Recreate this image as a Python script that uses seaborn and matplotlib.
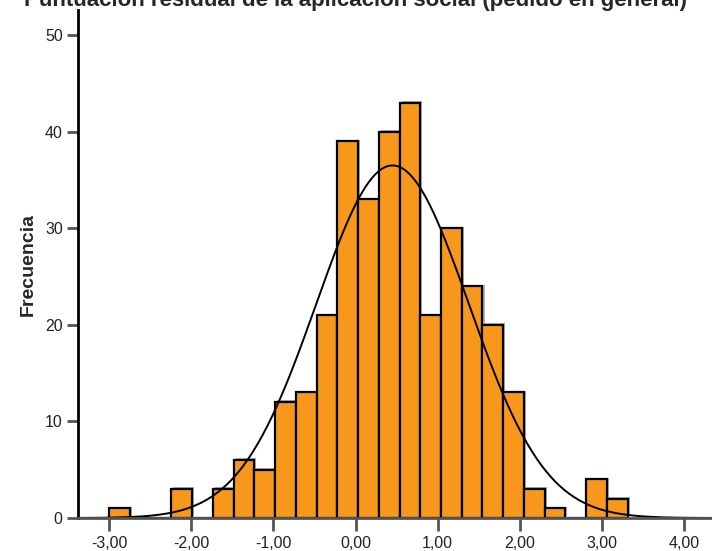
import numpy as np
import pandas as pd
import matplotlib
matplotlib.use("Agg")
import matplotlib.pyplot as plt
import matplotlib.patheffects as pe
import seaborn as sns

# histogram: 25 bins of width ~0.2525 starting at -3.00
bin_start = -3.00
bin_width = 0.2525
counts = [1, 0, 0, 3, 0, 3, 6, 5, 12, 13, 21, 39, 33,
          40, 43, 21, 30, 24, 20, 13, 3, 1, 0, 4, 2]
# fitted normal curve
curve_mean = 0.45
curve_sd = 0.93
x_ticks = [-3, -2, -1, 0, 1, 2, 3, 4]
x_labels = ["-3,00", "-2,00", "-1,00", "0,00", "1,00", "2,00", "3,00", "4,00"]
y_ticks = [0, 10, 20, 30, 40, 50]

edges = bin_start + bin_width * np.arange(len(counts) + 1)
centers = (edges[:-1] + edges[1:]) / 2
df = pd.DataFrame({"valor": centers, "n": counts})
n_total = sum(counts)

sns.set_style("white")
plt.rcParams["font.family"] = ["Liberation Sans", "DejaVu Sans"]

fig = plt.figure(figsize=(7.12, 5.51), dpi=100)
ax = fig.add_axes([78 / 712, 1 - 518 / 551, 1 - 78 / 712, (518 - 10) / 551])

sns.histplot(data=df, x="valor", weights="n", binwidth=bin_width,
             binrange=(edges[0], edges[-1]), stat="count",
             color="#F7981D", alpha=1, edgecolor="black", linewidth=1.6, ax=ax)
for p in ax.patches:
    p.set_path_effects([pe.SimplePatchShadow(offset=(1.5, 1.2), shadow_rgbFace="#9a9a9a", alpha=0.8),
                        pe.Normal()])

xs = np.linspace(-3.4, 4.4, 400)
ys = n_total * bin_width / (curve_sd * np.sqrt(2 * np.pi)) * np.exp(-0.5 * ((xs - curve_mean) / curve_sd) ** 2)
sns.lineplot(x=xs, y=ys, color="black", linewidth=1.4, ax=ax)

ax.set_xlim(-3.38, 4.34)
ax.set_ylim(0, 52.6)
ax.set_xticks(x_ticks)
ax.set_xticklabels(x_labels)
ax.set_yticks(y_ticks)
ax.tick_params(axis="x", bottom=True, direction="out", length=9, width=2, color="#555555",
               labelsize=11.5, labelcolor="#222222", pad=4)
ax.tick_params(axis="y", left=True, direction="out", length=8, width=2, color="#555555",
               labelsize=11.5, labelcolor="#222222", pad=3)
for s in ["top", "right"]:
    ax.spines[s].set_visible(False)
ax.spines["left"].set_linewidth(2)
ax.spines["left"].set_color("black")
ax.spines["bottom"].set_linewidth(2)
ax.spines["bottom"].set_color("#555555")
ax.set_xlabel("")
ax.set_ylabel("Frecuencia", fontsize=14, fontweight="bold", labelpad=6)

# title sits mostly above the top edge, as in the source image
fig.text(0.5, 1.0 - 6 / 551, "Puntuación residual de la aplicación social (pedido en general)",
         ha="center", va="baseline", fontsize=16, fontweight="bold")

fig.savefig("out.png", dpi=100)
